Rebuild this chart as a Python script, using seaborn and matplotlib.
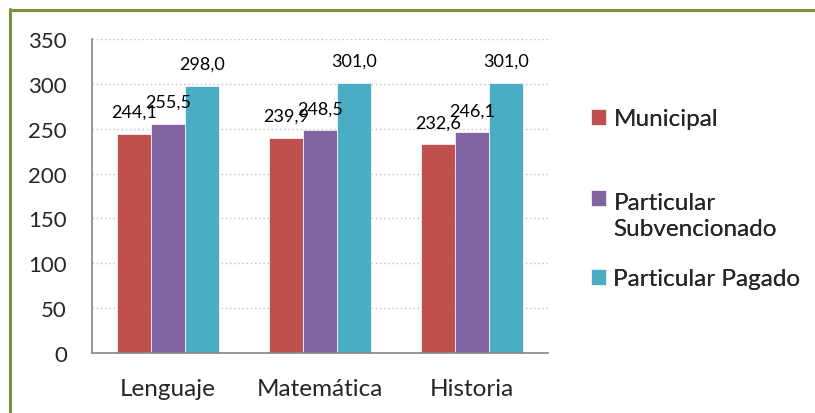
import matplotlib
matplotlib.use("Agg")
import matplotlib.pyplot as plt
import seaborn as sns
import pandas as pd
from matplotlib.lines import Line2D

categories = ["Lenguaje", "Matemática", "Historia"]
series_names = ["Municipal", "Particular\nSubvencionado", "Particular Pagado"]
municipal = [244.1, 239.9, 232.6]
subvencionado = [255.5, 248.5, 246.1]
pagado = [298.0, 301.0, 301.0]
y_ticks = [0, 50, 100, 150, 200, 250, 300, 350]
colors = ["#C0504D", "#8064A2", "#4BACC6"]

rows = []
for name, vals in zip(series_names, [municipal, subvencionado, pagado]):
    for c, v in zip(categories, vals):
        rows.append({"cat": c, "serie": name, "val": v})
df = pd.DataFrame(rows)

sns.set_style("white")
plt.rcParams['font.family'] = ['Lato', 'DejaVu Sans']

fig = plt.figure(figsize=(8.15, 4.14), dpi=100)
ax = fig.add_axes([92/815, 1-354/414, (548-92)/815, (354-40)/414])

sns.barplot(data=df, x="cat", y="val", hue="serie", palette=colors,
            order=categories, hue_order=series_names, width=0.665,
            ax=ax, saturation=1, edgecolor="white", linewidth=0.5)

for cont in ax.containers:
    labels = [f"{v:.1f}".replace(".", ",") for v in cont.datavalues]
    ax.bar_label(cont, labels=labels, padding=10, fontsize=13, color="black")

ax.set_ylim(0, 350)
ax.set_yticks(y_ticks)
ax.set_yticklabels([str(t) for t in y_ticks], fontsize=16)
ax.set_xlim(-0.5, 2.5)
ax.set_xticks([-0.5, 0.5, 1.5, 2.5], minor=False)
ax.set_xticklabels([])
ax.set_xticks([0, 1, 2], minor=True)
ax.set_xticklabels(categories, minor=True, fontsize=17.5)
ax.tick_params(axis="x", which="major", length=8, color="#868686", width=1.2, direction="out")
ax.tick_params(axis="x", which="minor", length=0, pad=18)
ax.tick_params(axis="y", length=6, color="#868686", width=1.2, direction="out", pad=12)
ax.set_xlabel("")
ax.set_ylabel("")
for s in ["top", "right"]:
    ax.spines[s].set_visible(False)
for s in ["left", "bottom"]:
    ax.spines[s].set_color("#868686")
    ax.spines[s].set_linewidth(1.2)
ax.yaxis.grid(True, linestyle=(0, (1, 2)), color="#BFBFBF", linewidth=1)
ax.set_axisbelow(True)

handles, labels = ax.get_legend_handles_labels()
ax.legend_.remove()
legend_y = [120, 216.5, 280]
for h, lab, yy in zip(handles, labels, legend_y):
    leg = fig.legend([h], [lab], loc="center left", bbox_to_anchor=(591/815, 1-yy/414),
                     frameon=False, fontsize=17.5, handlelength=0.62, handleheight=0.62,
                     handletextpad=0.3, borderpad=0, borderaxespad=0)
    if "\n" in lab:
        t = leg.get_texts()[0]
        t.set_linespacing(1.3)
        hp = leg.legend_handles[0]
        hp.set_y(hp.get_y() + 12.3)
    fig.add_artist(leg)

# green frame (left and top edges)
fig.add_artist(Line2D([10/815, 10/815], [1-10/414, 0], transform=fig.transFigure,
                      color="#77933C", linewidth=2.2))
fig.add_artist(Line2D([10/815, 1], [1-10.5/414, 1-10.5/414], transform=fig.transFigure,
                      color="#77933C", linewidth=2.2))

fig.savefig("out.png", dpi=100, facecolor="white")
